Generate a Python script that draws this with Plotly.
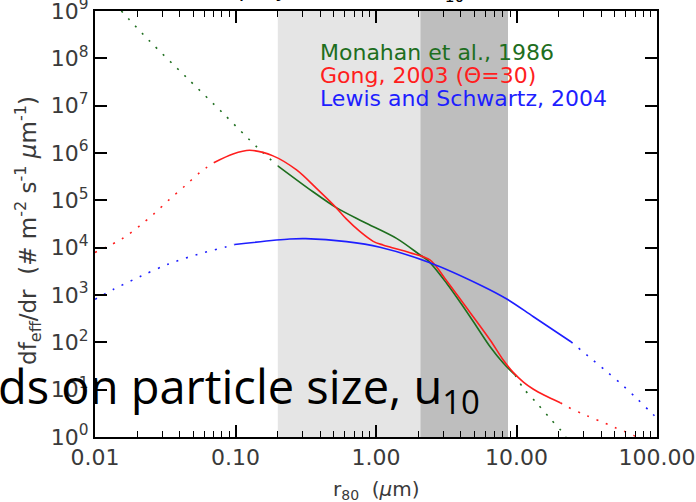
import plotly.graph_objects as go

# ---------------- data ----------------
monahan_r = [0.0154, 0.0244, 0.0447, 0.0815, 0.145, 0.201, 0.356, 0.518, 0.811, 1.40,
             2.06, 2.36, 3.18, 4.18, 5.21, 6.49, 8.07, 9.77, 11.2, 14.0, 17.3, 21.6, 22.5]
monahan_v = [1.0e9, 2.34e8, 3.98e7, 6.92e6, 1.26e6, 5.31e5, 1.52e5, 7.11e4, 3.53e4, 1.57e4,
             7.0e3, 5.25e3, 1.77e3, 565, 214, 80.7, 36.1, 20.4, 10.7, 5.13, 2.48, 1.19, 1.0]
monahan_solid = (0.201, 9.77)

gong_r = [0.0100, 0.0158, 0.0207, 0.0265, 0.0336, 0.0435, 0.0556, 0.070, 0.096, 0.126,
          0.185, 0.272, 0.377, 0.518, 0.617, 0.767, 0.955, 1.12, 1.256, 1.746, 2.42, 3.18, 4.18,
          6.49, 8.07, 9.51, 11.2, 13.2, 15.8, 20.5, 23.4, 31.7, 42.8, 50.5, 68.1, 70.8]
gong_v = [7.9e3, 1.58e4, 2.86e4, 5.32e4, 1.02e5, 2.0e5, 3.84e5, 6.24e5, 9.53e5, 1.14e6,
          8.7e5, 4.38e5, 1.79e5, 7.11e4, 4.0e4, 2.2e4, 1.36e4, 1.14e4, 1.03e4, 7.83e3, 5.5e3, 2.0e3, 667,
          112, 41.7, 22.9, 14.5, 10.2, 7.59, 5.30, 4.24, 2.81, 1.95, 1.57, 1.08, 1.0]
gong_solid = (0.070, 20.5)

lewis_r = [0.0100, 0.01355, 0.0213, 0.0334, 0.054, 0.0869, 0.0986, 0.243, 0.316, 0.617,
           1.067, 2.42, 5.51, 8.53, 13.2, 24.4, 34.4, 44.5, 57.8, 72.8, 93.1, 100.0]
lewis_v = [811, 1.32e3, 2.51e3, 4.52e3, 7.24e3, 1.05e4, 1.17e4, 1.52e4, 1.55e4, 1.34e4,
           1.02e4, 4.81e3, 1.63e3, 822, 347, 103, 43.8, 23.2, 11.9, 6.25, 3.05, 2.5]
lewis_solid = (0.0986, 24.4)

series_names = ["Monahan et al., 1986", "Gong, 2003 (\u0398=30)", "Lewis and Schwartz, 2004"]

band_light = (0.2, 2.07)
band_dark = (2.07, 8.7)

x_tickvals = [0.01, 0.1, 1, 10, 100]
x_ticktext = ["0.01", "0.10", "1.00", "10.00", "100.00"]
x_minor_digits = [2, 3, 4, 5, 6, 7, 8, 9]
y_exponents = list(range(0, 10))

# ---------------- figure ----------------
GREEN = "#1e6e1e"
RED = "#ff1e1e"
BLUE = "#1e1eff"
DOT = "2px,8px"
TICKFONT = dict(family="DejaVu Sans", size=22, color="#3a3a3a")

fig = go.Figure()


def add_curve(r, v, solid, color):
    lo, hi = solid
    left = [(a, b) for a, b in zip(r, v) if a <= lo]
    mid = [(a, b) for a, b in zip(r, v) if lo <= a <= hi]
    right = [(a, b) for a, b in zip(r, v) if a >= hi]
    for seg, dash in ((left, DOT), (mid, "solid"), (right, DOT)):
        if len(seg) < 2:
            continue
        fig.add_trace(go.Scatter(
            x=[p[0] for p in seg], y=[p[1] for p in seg], mode="lines",
            line=dict(color=color, width=1.6, dash=dash, shape="spline", smoothing=0.9),
            showlegend=False, hoverinfo="skip"))


add_curve(monahan_r, monahan_v, monahan_solid, GREEN)
add_curve(gong_r, gong_v, gong_solid, RED)
add_curve(lewis_r, lewis_v, lewis_solid, BLUE)

fig.add_shape(type="rect", xref="x", yref="paper", x0=band_light[0], x1=band_light[1],
              y0=0, y1=1, fillcolor="#e5e5e5", line_width=0, layer="below")
fig.add_shape(type="rect", xref="x", yref="paper", x0=band_dark[0], x1=band_dark[1],
              y0=0, y1=1, fillcolor="#bebebe", line_width=0, layer="below")

# legend texts
for i, (name, col) in enumerate(zip(series_names, [GREEN, RED, BLUE])):
    fig.add_annotation(x=0.396, y=0.902 - i * 0.054, xref="paper", yref="paper",
                       xanchor="left", yanchor="middle", text=name, showarrow=False,
                       font=dict(family="DejaVu Sans", size=22, color=col))

# y axis title
fig.add_annotation(x=-0.12, y=0.485, xref="paper", yref="paper", textangle=-90,
                   xanchor="center", yanchor="middle", showarrow=False,
                   text="df<sub>eff</sub>/dr  (# m<sup>-2</sup> s<sup>-1</sup> <i>\u03bc</i>m<sup>-1</sup>)",
                   font=dict(family="DejaVu Sans", size=23, color="#3a3a3a"))
# x axis title
fig.add_annotation(x=0.5, y=-0.125, xref="paper", yref="paper",
                   xanchor="center", yanchor="middle", showarrow=False,
                   text="r<sub>80</sub>  (<i>\u03bc</i>m)",
                   font=dict(family="DejaVu Sans", size=20, color="#3a3a3a"))

# clipped title at the top
fig.add_annotation(x=0.146, y=1.007, xref="paper", yref="paper",
                   xanchor="left", yanchor="bottom", showarrow=False,
                   text="Sea spray flux at wind u<sub>10</sub>",
                   font=dict(family="DejaVu Sans", size=22, color="#000000"))

# slide overlay text
fig.add_annotation(x=-0.176, y=0.113, xref="paper", yref="paper",
                   xanchor="left", yanchor="middle", showarrow=False,
                   text="ds on particle size, u<sub>10</sub>",
                   font=dict(family="Open Sans", size=47, color="#000000"))

axis_common = dict(type="log", showgrid=False, zeroline=False, showline=True,
                   linecolor="black", linewidth=2, mirror="ticks", ticks="inside",
                   ticklen=12, tickwidth=1.5, tickcolor="black", tickfont=TICKFONT,
                   automargin=False, ticklabeloverflow="allow")

minor_x = [d * 10.0 ** e for e in range(-2, 2) for d in x_minor_digits]

fig.update_xaxes(range=[-2, 2], tickvals=x_tickvals, ticktext=x_ticktext,
                 minor=dict(ticks="inside", ticklen=6, tickwidth=1.2, tickcolor="black",
                            showgrid=False, tickvals=minor_x),
                 **axis_common)
fig.update_yaxes(range=[-0.0005, 9.0005], tickvals=[10 ** k for k in y_exponents],
                 ticktext=["10<sup>%d</sup>" % k for k in y_exponents],
                 **axis_common)

fig.update_layout(width=696, height=502, margin=dict(l=95, r=39, t=11, b=65),
                  paper_bgcolor="white", plot_bgcolor="white", showlegend=False)

fig.write_html("out.html", config={"displayModeBar": False},
               post_script="document.body.style.margin='0px';")
